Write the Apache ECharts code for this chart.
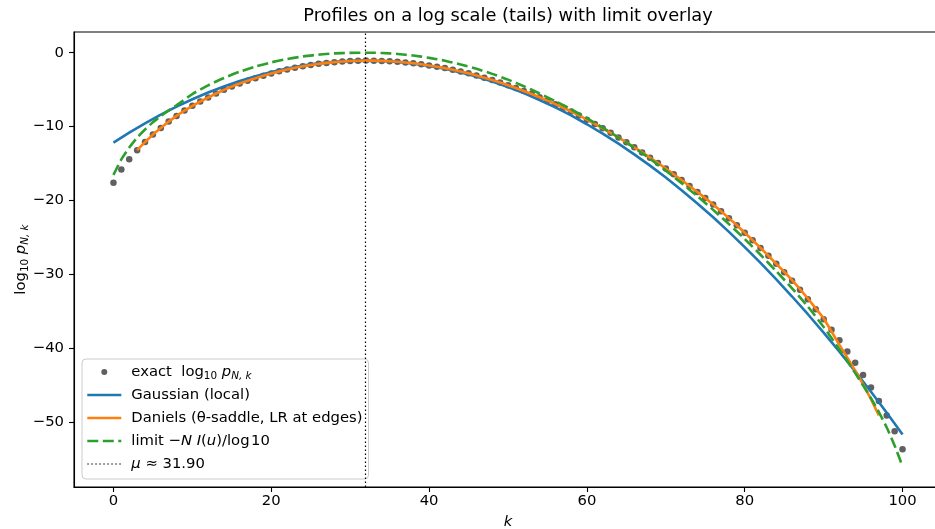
<!DOCTYPE html>
<html><head><meta charset="utf-8">
<script src="https://cdn.jsdelivr.net/npm/echarts@6/dist/echarts.min.js"></script>
<style>html,body{margin:0;padding:0;background:#fff}#c{width:935px;height:529px}</style>
</head><body><div id="c"></div>
<script>
// ---------------- data ----------------
const kExact = [0,1,2,3,4,5,6,7,8,9,10,11,12,13,14,15,16,17,18,19,20,21,22,23,24,25,26,27,28,29,30,31,32,33,34,35,36,37,38,39,40,41,42,43,44,45,46,47,48,49,50,51,52,53,54,55,56,57,58,59,60,61,62,63,64,65,66,67,68,69,70,71,72,73,74,75,76,77,78,79,80,81,82,83,84,85,86,87,88,89,90,91,92,93,94,95,96,97,98,99,100];
const exactLog10 = [-17.60,-15.83,-14.44,-13.20,-12.10,-11.09,-10.19,-9.33,-8.56,-7.83,-7.20,-6.61,-6.07,-5.53,-5.03,-4.58,-4.17,-3.81,-3.45,-3.13,-2.81,-2.53,-2.28,-2.05,-1.85,-1.67,-1.51,-1.38,-1.28,-1.19,-1.13,-1.09,-1.07,-1.08,-1.11,-1.16,-1.23,-1.32,-1.44,-1.57,-1.73,-1.90,-2.09,-2.31,-2.55,-2.80,-3.08,-3.38,-3.70,-4.04,-4.40,-4.78,-5.18,-5.60,-6.04,-6.49,-6.97,-7.45,-7.96,-8.49,-9.07,-9.64,-10.24,-10.85,-11.48,-12.14,-12.81,-13.50,-14.21,-14.94,-15.69,-16.46,-17.25,-18.06,-18.86,-19.69,-20.56,-21.47,-22.40,-23.37,-24.37,-25.39,-26.43,-27.49,-28.59,-29.71,-30.86,-32.08,-33.38,-34.73,-36.10,-37.50,-38.92,-40.45,-41.98,-43.65,-45.33,-47.14,-49.13,-51.25,-53.69];

const gaussK = [0,2,4,6,8,10,12,14,16,18,20,22,24,26,28,30,32,34,36,38,40,42,44,46,48,50,52,54,56,58,60,62,64,66,68,70,72,74,76,78,80,82,84,86,88,90,92,94,96,98,100];
const gaussLog10 = [-12.17,-10.83,-9.56,-8.39,-7.30,-6.30,-5.39,-4.57,-3.83,-3.18,-2.62,-2.14,-1.75,-1.45,-1.24,-1.11,-1.07,-1.12,-1.25,-1.48,-1.79,-2.18,-2.67,-3.24,-3.90,-4.64,-5.48,-6.40,-7.41,-8.50,-9.69,-10.96,-12.31,-13.76,-15.29,-16.91,-18.62,-20.41,-22.29,-24.26,-26.32,-28.46,-30.69,-33.01,-35.41,-37.90,-40.48,-43.15,-45.91,-48.75,-51.68];

const danielsK = [3,4,5,6,7,8,9,10,11,12,13,14,15,16,17,18,19,20,21,22,23,24,25,26,27,28,29,30,31,32,33,34,35,36,37,38,39,40,41,42,43,44,45,46,47,48,49,50,51,52,53,54,55,56,57,58,59,60,61,62,63,64,65,66,67,68,69,70,71,72,73,74,75,76,77,78,79,80,81,82,83,84,85,86,87,88,89,90,91,92,93,94,95,96,97];
const danielsLog10 = [-13.20,-12.10,-11.09,-10.19,-9.33,-8.56,-7.83,-7.20,-6.61,-6.07,-5.53,-5.03,-4.58,-4.17,-3.81,-3.45,-3.13,-2.81,-2.53,-2.28,-2.05,-1.85,-1.67,-1.51,-1.38,-1.28,-1.19,-1.13,-1.09,-1.07,-1.08,-1.11,-1.16,-1.23,-1.32,-1.44,-1.57,-1.73,-1.90,-2.09,-2.31,-2.55,-2.80,-3.08,-3.38,-3.70,-4.04,-4.40,-4.78,-5.18,-5.60,-6.04,-6.49,-6.97,-7.45,-7.96,-8.49,-9.07,-9.64,-10.24,-10.85,-11.48,-12.14,-12.81,-13.50,-14.21,-14.94,-15.69,-16.46,-17.25,-18.06,-18.86,-19.69,-20.56,-21.47,-22.40,-23.37,-24.37,-25.39,-26.43,-27.49,-28.59,-29.66,-30.80,-32.00,-33.28,-34.62,-35.95,-37.75,-39.55,-41.30,-43.05,-44.90,-46.90,-49.10];

const limitK = [0,1,2,3,4,5,6,7,8,10,12,14,16,18,20,22,24,26,28,30,32,34,36,38,40,42,44,46,48,50,52,54,56,58,60,62,64,66,68,70,72,74,76,78,80,82,84,86,88,90,91,92,93,94,95,96,97,98,99,100];
const limitLog10 = [-16.55,-14.45,-12.85,-11.50,-10.40,-9.42,-8.58,-7.82,-7.12,-5.60,-4.42,-3.42,-2.57,-1.88,-1.31,-0.86,-0.51,-0.26,-0.10,-0.02,0.00,-0.04,-0.17,-0.39,-0.70,-1.09,-1.60,-2.18,-2.87,-3.65,-4.54,-5.52,-6.57,-7.66,-8.87,-10.14,-11.48,-12.88,-14.36,-15.97,-17.66,-19.43,-21.28,-23.21,-25.22,-27.36,-29.59,-31.90,-34.37,-37.13,-38.63,-40.17,-41.74,-43.38,-45.05,-46.78,-48.65,-50.75,-53.20,-56.00];

const muValue = 31.90;
const xTicks = [0,20,40,60,80,100];
const yTicks = [-50,-40,-30,-20,-10,0];

const seriesNames = ['exact','gauss','daniels','limit','mu'];
const legendText = {
  exact: 'exact  log{sub|10} {it|p}{subit|N, k}',
  gauss: 'Gaussian (local)',
  daniels: 'Daniels (\u03b8-saddle, LR at edges)',
  limit: 'limit \u2212{it|N I}({it|u})/log\u200a10',
  mu: '{it|\u03bc} \u2248 31.90'
};
const titleText = 'Profiles on a log scale (tails) with limit overlay';

// ---------------- chart ----------------
const FONT = 'DejaVu Sans';
const FS = 14.8;
const richStyles = {
  sub:   {fontFamily: FONT, fontSize: 10.4, lineHeight: 18, padding: [8,0,0,0], color: '#000'},
  it:    {fontFamily: FONT, fontSize: FS, fontStyle: 'italic', lineHeight: 18, color: '#000'},
  subit: {fontFamily: FONT, fontSize: 10.4, fontStyle: 'italic', lineHeight: 18, padding: [8,0,0,0], color: '#000'}
};
const zip = (a, b) => a.map((v, i) => [v, b[i]]);
const minusFmt = v => String(v).replace('-', '\u2212');

const chart = echarts.init(document.getElementById('c'), null, {renderer: 'canvas'});
chart.setOption({
  animation: false,
  backgroundColor: '#ffffff',
  title: {
    text: titleText, left: 508, top: 7, textAlign: 'center', padding: 0,
    textStyle: {fontFamily: FONT, fontSize: 17.8, fontWeight: 'normal', color: '#000'}
  },
  grid: {left: 74, top: 32, width: 868, height: 455, show: true, borderColor: '#000', borderWidth: 1.1,
         backgroundColor: 'transparent', containLabel: false, outerBoundsMode: 'none'},
  legend: {
    orient: 'vertical', left: 82, top: 359,
    padding: [4, 6, 6, 4],
    itemWidth: 34, itemHeight: 14, itemGap: 5,
    backgroundColor: 'rgba(255,255,255,0.8)', borderColor: '#cccccc', borderWidth: 1, borderRadius: 4,
    selectedMode: false,
    itemStyle: {color: 'rgba(0,0,0,0)', borderColor: 'rgba(0,0,0,0)', borderWidth: 0},
    lineStyle: {width: 'inherit', color: 'inherit', type: 'inherit'},
    data: [
      {name: 'exact', icon: 'path://M0,0L0,0M34,14L34,14M20,7A3,3,0,1,1,14,7A3,3,0,1,1,20,7Z', itemStyle: {color: '#383838', borderWidth: 0}},
      'gauss', 'daniels', 'limit', 'mu'
    ],
    formatter: name => legendText[name],
    textStyle: {fontFamily: FONT, fontSize: FS, color: '#000', lineHeight: 18, padding: [0,0,0,5], rich: richStyles}
  },
  xAxis: {
    type: 'value', min: -5, max: 105,
    splitLine: {show: false},
    axisLine: {show: true, onZero: false, lineStyle: {color: '#000', width: 1.1}},
    axisTick: {show: true, length: 5, lineStyle: {color: '#000', width: 1.1}, customValues: xTicks},
    axisLabel: {customValues: xTicks, margin: 7, fontFamily: FONT, fontSize: FS, color: '#000', formatter: minusFmt},
    name: '{it|k}', nameLocation: 'middle', nameGap: 26, nameMoveOverlap: false,
    nameTextStyle: {fontFamily: FONT, fontSize: FS, color: '#000', rich: richStyles}
  },
  yAxis: {
    type: 'value', min: -58.8, max: 2.8,
    splitLine: {show: false},
    axisLine: {show: true, onZero: false, lineStyle: {color: '#000', width: 1.1}},
    axisTick: {show: true, length: 5, lineStyle: {color: '#000', width: 1.1}, customValues: yTicks},
    axisLabel: {customValues: yTicks, margin: 10, fontFamily: FONT, fontSize: FS, color: '#000', formatter: minusFmt},
    name: 'log{sub|10} {it|p}{subit|N, k}', nameLocation: 'middle', nameRotate: 90, nameGap: 44, nameMoveOverlap: false,
    nameTextStyle: {fontFamily: FONT, fontSize: FS, color: '#000', lineHeight: 18, rich: richStyles}
  },
  series: [
    {name: 'exact', type: 'scatter', data: zip(kExact, exactLog10), symbol: 'circle', symbolSize: 6.5,
     itemStyle: {color: '#383838'}, z: 2, silent: true},
    {name: 'gauss', type: 'line', data: zip(gaussK, gaussLog10), symbol: 'none', color: '#1f77b4',
     lineStyle: {color: '#1f77b4', width: 2.6}, z: 3, silent: true},
    {name: 'daniels', type: 'line', data: zip(danielsK, danielsLog10), symbol: 'none', color: '#ff7f0e',
     lineStyle: {color: '#ff7f0e', width: 2.6}, z: 4, silent: true},
    {name: 'limit', type: 'line', data: zip(limitK, limitLog10), symbol: 'none', smooth: 0.2, color: '#2ca02c',
     lineStyle: {color: '#2ca02c', width: 2.6, type: [11, 4.5]}, z: 5, silent: true},
    {name: 'mu', type: 'line', data: [], symbol: 'none', color: '#000',
     lineStyle: {color: '#000', width: 1.2, type: [1.5, 2.5]}, z: 6, silent: true,
     markLine: {silent: true, symbol: ['none','none'], label: {show: false},
                lineStyle: {color: '#000', width: 1.2, type: [1.5, 2.5]},
                data: [{xAxis: muValue}]}}
  ]
});
</script></body></html>
